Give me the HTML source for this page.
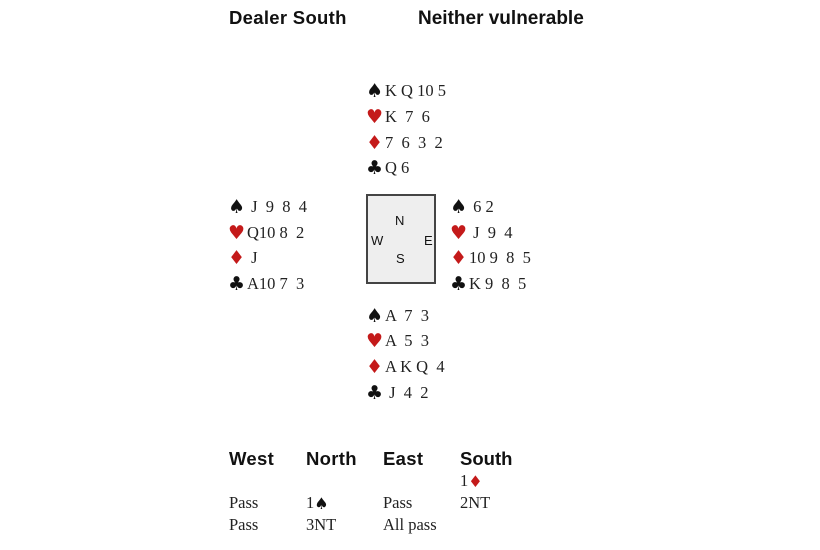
<!DOCTYPE html>
<html><head><meta charset="utf-8"><style>
body{margin:0;width:820px;height:550px;background:#fff;position:relative;overflow:hidden;font-family:"Liberation Serif",serif;color:#222}
.a{position:absolute;white-space:pre;line-height:1}
.h{font-family:"Liberation Sans",sans-serif;font-weight:bold;font-size:18.5px;color:#111;letter-spacing:0.3px}
.c{font-size:16.5px}
.s{display:inline-block;width:19px;font-family:"DejaVu Sans",sans-serif;font-size:19px;color:#111;vertical-align:-1px}
.r{color:#c41a1a}
.box{position:absolute;left:366px;top:194px;width:66px;height:86px;background:#eeeeee;border:2px solid #444}
.d{position:absolute;font-family:"Liberation Sans",sans-serif;font-size:13px;color:#111}
</style></head><body>
<div class="a h" style="left:229px;top:9px">Dealer South</div>
<div class="a h" style="left:418px;top:9px;font-size:19px;letter-spacing:0">Neither vulnerable</div>

<div class="a c" style="left:366px;top:82px"><span class="s">♠</span>K Q 10 5</div>
<div class="a c" style="left:366px;top:108px"><span class="s r">♥</span>K  7  6</div>
<div class="a c" style="left:366px;top:134px"><span class="s r">♦</span>7  6  3  2</div>
<div class="a c" style="left:366px;top:159px"><span class="s">♣</span>Q 6</div>

<div class="a c" style="left:228px;top:198px"><span class="s">♠</span> J  9  8  4</div>
<div class="a c" style="left:228px;top:224px"><span class="s r">♥</span>Q10 8  2</div>
<div class="a c" style="left:228px;top:249px"><span class="s r">♦</span> J</div>
<div class="a c" style="left:228px;top:275px"><span class="s">♣</span>A10 7  3</div>

<div class="a c" style="left:450px;top:198px"><span class="s">♠</span> 6 2</div>
<div class="a c" style="left:450px;top:224px"><span class="s r">♥</span> J  9  4</div>
<div class="a c" style="left:450px;top:249px"><span class="s r">♦</span>10 9  8  5</div>
<div class="a c" style="left:450px;top:275px"><span class="s">♣</span>K 9  8  5</div>

<div class="box"></div>
<div class="d" style="left:395px;top:213px">N</div>
<div class="d" style="left:371px;top:233px">W</div>
<div class="d" style="left:424px;top:233px">E</div>
<div class="d" style="left:396px;top:251px">S</div>

<div class="a c" style="left:366px;top:307px"><span class="s">♠</span>A  7  3</div>
<div class="a c" style="left:366px;top:332px"><span class="s r">♥</span>A  5  3</div>
<div class="a c" style="left:366px;top:358px"><span class="s r">♦</span>A K Q  4</div>
<div class="a c" style="left:366px;top:384px"><span class="s">♣</span> J  4  2</div>

<div class="a h" style="left:229px;top:450px">West</div>
<div class="a h" style="left:306px;top:450px">North</div>
<div class="a h" style="left:383px;top:450px">East</div>
<div class="a h" style="left:460px;top:450px;letter-spacing:0">South</div>
<div class="a c" style="left:460px;top:473px">1<span class="s r" style="font-size:16px">♦</span></div>
<div class="a c" style="left:229px;top:495px">Pass</div>
<div class="a c" style="left:306px;top:495px">1<span class="s" style="font-size:16px">♠</span></div>
<div class="a c" style="left:383px;top:495px">Pass</div>
<div class="a c" style="left:460px;top:495px">2NT</div>
<div class="a c" style="left:229px;top:517px">Pass</div>
<div class="a c" style="left:306px;top:517px">3NT</div>
<div class="a c" style="left:383px;top:517px">All pass</div>
</body></html>
